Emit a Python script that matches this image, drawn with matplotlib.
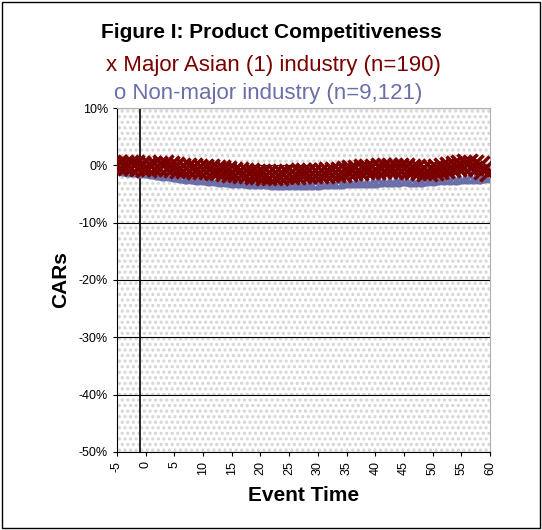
import numpy as np
import matplotlib.pyplot as plt
from matplotlib.patches import Rectangle

plt.rcParams['font.family'] = 'Liberation Sans'
plt.rcParams['hatch.linewidth'] = 1.5

event_time = np.arange(-5, 61)
major_asian = [0.0, 0.0, 0.1, 0.0, -0.2, -0.3, -0.2, -0.1, 0.0, -0.2,
               -0.3, -0.4, -0.5, -0.5, -0.6, -0.7, -0.7, -0.8, -0.9, -1.0,
               -1.1, -1.2, -1.3, -1.4, -1.5, -1.5, -1.6, -1.6, -1.6, -1.5,
               -1.5, -1.5, -1.4, -1.4, -1.4, -1.3, -1.3, -1.2, -1.2, -1.1,
               -1.0, -0.9, -0.8, -0.7, -0.6, -0.6, -0.5, -0.5, -0.4, -0.5,
               -0.5, -0.6, -0.7, -0.9, -1.0, -0.9, -0.7, -0.5, -0.3, -0.1,
               0.0, 0.2, 0.1, -0.2, -0.6, -1.0]
non_major = [0.0, -0.2, -0.3, -0.4, -0.5, -0.6, -0.8, -1.0, -1.1, -1.2,
             -1.4, -1.5, -1.7, -1.8, -1.9, -2.0, -2.1, -2.2, -2.3, -2.4,
             -2.5, -2.6, -2.7, -2.8, -2.8, -2.9, -2.9, -3.0, -3.0, -3.0,
             -3.0, -3.1, -3.1, -3.0, -3.0, -3.0, -2.9, -2.9, -2.8, -2.8,
             -2.7, -2.7, -2.6, -2.6, -2.5, -2.5, -2.4, -2.4, -2.3, -2.3,
             -2.2, -2.3, -2.4, -2.3, -2.2, -2.1, -2.0, -2.0, -1.9, -1.9,
             -1.8, -1.8, -1.7, -1.7, -1.6, -1.5]
non_major = [v * 0.85 for v in non_major]
xticks = np.arange(-5, 61, 5)
yticks = np.arange(-50, 11, 10)

fig = plt.figure(figsize=(5.42, 5.30), dpi=100)
fig.patches.append(Rectangle((0.003, 0.003), 0.994, 0.994, transform=fig.transFigure,
                             fill=False, edgecolor='black', lw=1))
ax = fig.add_axes([117/542, 1 - 452/530, 373/542, 344/530])
ax.add_patch(Rectangle((0, 0), 1, 1, transform=ax.transAxes, facecolor='white',
                       hatch='...', edgecolor='#d4d4d4', lw=0, zorder=0))
for y in yticks:
    ax.axhline(y, color='black', lw=0.8, zorder=1)
ax.axvline(-1, color='black', lw=1.2, zorder=1)

ax.plot(event_time, non_major, 'o', mfc='none', mec='#6b6ea8', ms=12, mew=2.5, zorder=2)
ax.plot(event_time, major_asian, 'x', color='#7a0000', ms=14, mew=2.5, zorder=3)

ax.set_xlim(-5, 60)
ax.set_ylim(-50, 10)
ax.set_xticks(xticks)
ax.set_xticklabels([str(t) for t in xticks], rotation=90, fontsize=9)
ax.set_yticks(yticks)
ax.set_yticklabels([f'{t}%' for t in yticks], fontsize=9)
ax.tick_params(length=3)
for s in ['top', 'right']:
    ax.spines[s].set_color('#b0b0b0')
ax.set_xlabel('Event Time', fontsize=15, fontweight='bold', labelpad=8)
ax.set_ylabel('CARs', fontsize=15, fontweight='bold', labelpad=6)

fig.text(0.5, 1 - 33/530, 'Figure I: Product Competitiveness', ha='center', va='center',
         fontsize=15, fontweight='bold')
fig.text(0.505, 1 - 66/530, 'x Major Asian (1) industry (n=190)', ha='center', va='center',
         fontsize=16, color='#7a0000')
fig.text(0.495, 1 - 93/530, 'o Non-major industry (n=9,121)', ha='center', va='center',
         fontsize=16, color='#6b6ea8')

fig.savefig('out.png', dpi=100)
